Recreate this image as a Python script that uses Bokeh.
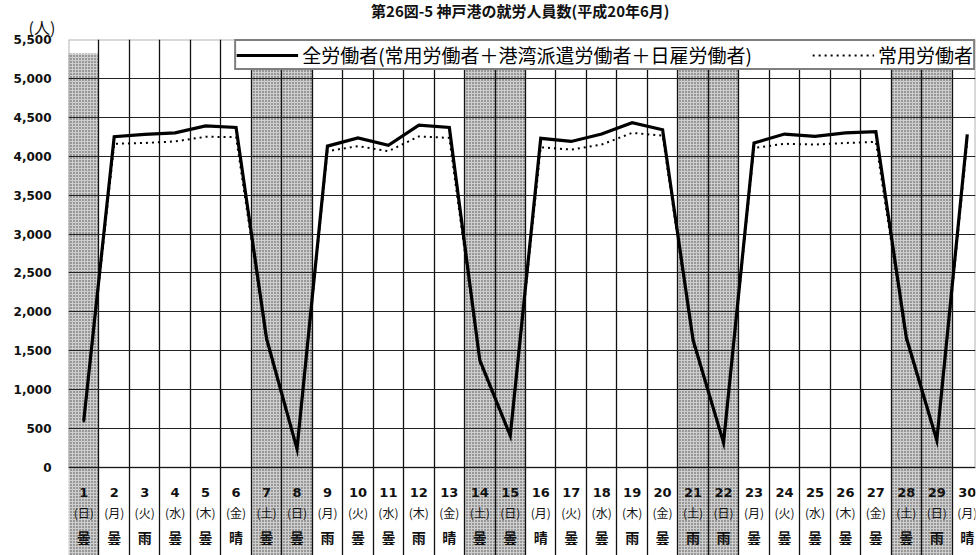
from bokeh.plotting import figure
from bokeh.models import (FixedTicker, NumeralTickFormatter, BoxAnnotation, Title,
                          ColumnDataSource, Legend, LegendItem)
from bokeh.core.properties import value
from bokeh.embed import file_html
from bokeh.resources import INLINE

# ---------------- data ----------------
days = list(range(1, 31))
weekday_names = ["日", "月", "火", "水", "木", "金", "土"]
weekdays = [weekday_names[(d - 1) % 7] for d in days]
weather = ["曇", "曇", "雨", "曇", "曇", "晴", "曇", "曇", "雨", "曇",
           "曇", "雨", "晴", "曇", "曇", "晴", "曇", "曇", "雨", "曇",
           "雨", "雨", "曇", "曇", "曇", "曇", "曇", "曇", "雨", "晴"]
total_workers = [600, 4250, 4280, 4300, 4390, 4370, 1660, 240, 4130, 4235,
                 4140, 4400, 4370, 1380, 410, 4230, 4190, 4285, 4430, 4340,
                 1640, 320, 4170, 4285, 4255, 4300, 4315, 1670, 350, 4280]
regular_workers = [580, 4160, 4170, 4190, 4250, 4245, 1625, 230, 4065, 4130,
                   4065, 4255, 4235, 1350, 400, 4115, 4085, 4150, 4300, 4265,
                   1605, 310, 4105, 4160, 4150, 4170, 4185, 1635, 340, 4190]
holidays = [1, 7, 8, 14, 15, 21, 22, 28, 29]
y_ticks = list(range(0, 5501, 500))
title_text = "第26図-5  神戸港の就労人員数(平成20年6月)"
legend_total = "全労働者(常用労働者＋港湾派遣労働者＋日雇労働者)"
legend_regular = "常用労働者"
unit_text = "(人)"

# ---------------- layout constants ----------------
Y_TOP = 5500
Y_BOTTOM = -1131
X_START, X_END = 0.5, 30.27
ROW_DAY, ROW_DOW, ROW_WEATHER = -317, -575, -896
SHADE_TOP = 5320
JP = "Noto Sans CJK JP"

p = figure(width=980, height=555, x_range=(X_START, X_END), y_range=(Y_BOTTOM, Y_TOP),
           output_backend="svg", toolbar_location=None, x_axis_location=None,
           min_border_left=68, min_border_right=5, min_border_top=39, min_border_bottom=0,
           outline_line_color=None, background_fill_color="white")

# title and unit (stacked above the frame; first added sits nearest the frame)
p.add_layout(Title(text=unit_text, align="left", offset=-40, standoff=1,
                   text_font=JP, text_font_size="16px", text_font_style="normal",
                   text_line_height=0.8, text_color="#111111"), "above")
p.add_layout(Title(text=title_text, align="center", offset=11, standoff=-16,
                   text_font=JP, text_font_size="15px", text_font_style="bold",
                   text_line_height=0.8, text_color="#111111"), "above")

# y axis
p.yaxis.ticker = FixedTicker(ticks=y_ticks)
p.yaxis.formatter = NumeralTickFormatter(format="0,0")
p.yaxis.axis_line_color = None
p.yaxis.major_tick_line_color = None
p.yaxis.minor_tick_line_color = None
p.yaxis.major_label_standoff = 11
p.yaxis.major_label_text_font = "DejaVu Sans"
p.yaxis.major_label_text_font_style = "bold"
p.yaxis.major_label_text_font_size = "12px"
p.yaxis.major_label_text_color = "#111111"

# grids
p.ygrid.ticker = FixedTicker(ticks=y_ticks)
p.ygrid.grid_line_color = "#222222"
p.ygrid.grid_line_width = 1
p.xgrid.ticker = FixedTicker(ticks=[d + 0.5 for d in days[:-1]])
p.xgrid.grid_line_color = "#111111"
p.xgrid.grid_line_width = 1.3

# weekend / holiday shading
p.vbar(x=holidays, width=1, bottom=Y_BOTTOM, top=SHADE_TOP,
       fill_color="#b4b4b4", fill_alpha=0.65, line_color=None,
       hatch_pattern="dot", hatch_scale=3, hatch_weight=1.4, hatch_color="#333333",
       hatch_alpha=0.9, level="underlay")

# frame border
p.add_layout(BoxAnnotation(left=X_START, right=X_END, bottom=0, top=Y_TOP,
                           fill_alpha=0, line_color="black", line_width=2))

# data lines
r_total = p.line(days, total_workers, line_width=3.2, line_color="black", line_join="miter")
r_reg = p.line(days, regular_workers, line_width=2, line_color="black", line_dash="2 4")

legend = Legend(items=[LegendItem(label=legend_total, renderers=[r_total]),
                       LegendItem(label=legend_regular, renderers=[r_reg])],
                orientation="horizontal", location="top_right", margin=0,
                padding=0, spacing=60, label_standoff=4, glyph_width=62,
                glyph_height=18, label_height=18,
                label_text_font=JP, label_text_font_size="19px",
                label_text_line_height=0.7,
                label_text_color="black",
                border_line_color="black", border_line_width=2,
                background_fill_color="white", background_fill_alpha=1)
p.add_layout(legend)

# table below the chart
src = ColumnDataSource(dict(
    x=days,
    day=[str(d) for d in days],
    dow=["(" + w + ")" for w in weekdays],
    weather=weather,
    y_day=[ROW_DAY] * len(days),
    y_dow=[ROW_DOW] * len(days),
    y_weather=[ROW_WEATHER] * len(days),
))
p.text(x="x", y="y_day", text="day", source=src, text_align="center", text_baseline="middle",
       text_font=value("DejaVu Sans"), text_font_style="bold", text_font_size="13px",
       text_color="#111111")
p.text(x="x", y="y_dow", text="dow", source=src, text_align="center", text_baseline="middle",
       text_font=value(JP), text_font_size="12px", text_color="#111111")
p.text(x="x", y="y_weather", text="weather", source=src, text_align="center",
       text_baseline="middle", text_font=value(JP), text_font_style="bold",
       text_font_size="14px", text_color="#111111")

open("out.html", "w").write(file_html(p, INLINE))
